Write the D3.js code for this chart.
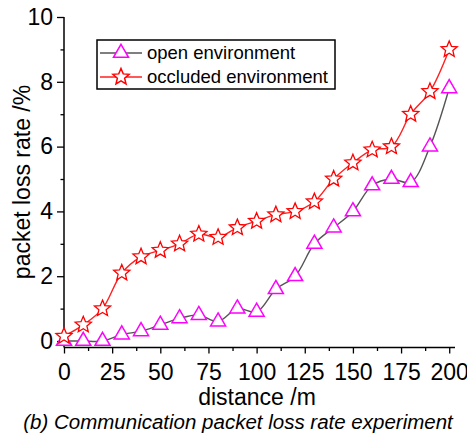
<!DOCTYPE html>
<html>
<head>
<meta charset="utf-8">
<script src="https://cdn.jsdelivr.net/npm/d3@7"></script>
<style>
  body { margin: 0; background: #fff; }
  svg { display: block; font-family: "Liberation Sans", Arial, sans-serif; }
</style>
</head>
<body>
<svg id="chart" width="467" height="434"></svg>
<script>
// data
var distances = [0, 10, 20, 30, 40, 50, 60, 70, 80, 90, 100, 110, 120, 130, 140, 150, 160, 170, 180, 190, 200];
var openLoss = [0, 0, 0, 0.2, 0.3, 0.5, 0.7, 0.8, 0.6, 1.0, 0.9, 1.6, 2.0, 3.0, 3.5, 4.0, 4.8, 5.0, 4.9, 6.0, 7.8];
var occludedLoss = [0.15, 0.5, 1.0, 2.1, 2.6, 2.8, 3.0, 3.3, 3.2, 3.5, 3.7, 3.9, 4.0, 4.3, 5.0, 5.5, 5.9, 6.0, 7.0, 7.7, 9.0];
var seriesNames = ["open environment", "occluded environment"];
var xTicks = [0, 25, 50, 75, 100, 125, 150, 175, 200];
var yTicks = [0, 2, 4, 6, 8, 10];

var GrayLine = "#555555", RedLine = "#ff2020", Magenta = "#ff00ff", Red = "#ff0000";

var svg = d3.select("#chart");

var x = d3.scaleLinear().domain([0, 203]).range([64, 455]);
var y = d3.scaleLinear().domain([-0.2, 10]).range([347.5, 17]);

// star path, centred on 0,0
function starPath(r) {
  var ri = r * 0.45, p = [];
  for (var i = 0; i < 10; i++) {
    var a = -Math.PI / 2 + i * Math.PI / 5;
    var rr = (i % 2 == 0) ? r : ri;
    p.push([Math.cos(a) * rr, Math.sin(a) * rr]);
  }
  return "M" + p.join("L") + "Z";
}
var triPath = d3.symbol().type(d3.symbolTriangle).size(98)();
var star = starPath(8.5);

// axes
var xAxis = d3.axisBottom(x).tickValues(xTicks).tickSize(6).tickPadding(6).tickFormat(d3.format("d"));
var xMinor = d3.axisBottom(x).tickValues(xTicks.slice(1).map(function(d) { return d - 12.5; })).tickSize(3.5).tickFormat("");
var yAxis = d3.axisLeft(y).tickValues(yTicks).tickSize(7).tickPadding(4).tickFormat(d3.format("d"));
var yMinor = d3.axisLeft(y).tickValues([1, 3, 5, 7, 9]).tickSize(3.5).tickFormat("");

var gx = svg.append("g").attr("transform", "translate(0,347.5)").call(xAxis);
svg.append("g").attr("transform", "translate(0,347.5)").call(xMinor);
var gy = svg.append("g").attr("transform", "translate(64,0)").call(yAxis);
svg.append("g").attr("transform", "translate(64,0)").call(yMinor);

svg.selectAll(".domain").attr("stroke", "#000").attr("stroke-width", 1.5)
  .attr("d", null);
// plain axis lines (no end caps)
gx.select(".domain").attr("d", "M" + x.range()[0] + ",0H" + x.range()[1]);
gy.select(".domain").attr("d", "M0," + y.range()[0] + "V" + y.range()[1]);
svg.selectAll(".tick line").attr("stroke", "#000").attr("stroke-width", 1.3);
svg.selectAll(".tick text").attr("fill", "#000").style("font-size", "23px")
  .style("font-family", "Liberation Sans, Arial, sans-serif");
gx.selectAll(".tick text").attr("dy", "0.9em");

// axis titles
svg.append("text")
  .attr("x", 257).attr("y", 405)
  .attr("text-anchor", "middle")
  .style("font-size", "23px")
  .text("distance /m");
svg.append("text")
  .attr("transform", "translate(30,182) rotate(-90)")
  .attr("text-anchor", "middle")
  .style("font-size", "23px")
  .text("packet loss rate /%");
svg.append("text")
  .attr("x", 238).attr("y", 429)
  .attr("text-anchor", "middle")
  .style("font-size", "20.5px")
  .style("font-style", "italic")
  .text("(b) Communication packet loss rate experiment");

// lines
var line = d3.line()
  .x(function(d) { return x(d[0]); })
  .y(function(d) { return y(d[1]); })
  .curve(d3.curveCatmullRom.alpha(0.5));

var openPts = distances.map(function(d, i) { return [d, openLoss[i]]; });
var occPts = distances.map(function(d, i) { return [d, occludedLoss[i]]; });

svg.append("path").datum(openPts).attr("d", line)
  .attr("fill", "none").attr("stroke", GrayLine).attr("stroke-width", 1.4);
svg.append("path").datum(occPts).attr("d", line)
  .attr("fill", "none").attr("stroke", RedLine).attr("stroke-width", 1.4);

// markers (hollow, white inside)
svg.append("g").selectAll("path").data(openPts).enter().append("path")
  .attr("d", triPath)
  .attr("transform", function(d) { return "translate(" + x(d[0]) + "," + y(d[1]) + ")"; })
  .attr("fill", "#fff").attr("stroke", Magenta).attr("stroke-width", 1.5);
svg.append("g").selectAll("path").data(occPts).enter().append("path")
  .attr("d", star)
  .attr("transform", function(d) { return "translate(" + x(d[0]) + "," + y(d[1]) + ")"; })
  .attr("fill", "#fff").attr("stroke", Red).attr("stroke-width", 1.3);

// legend
var legend = svg.append("g");
legend.append("rect")
  .attr("x", 97).attr("y", 40).attr("width", 238).attr("height", 49)
  .attr("fill", "#fff").attr("stroke", "#000").attr("stroke-width", 1.5);
var rows = [
  {name: seriesNames[0], y: 53, lineColor: GrayLine, mark: triPath, markColor: Magenta},
  {name: seriesNames[1], y: 77, lineColor: RedLine, mark: star, markColor: Red}
];
rows.forEach(function(r) {
  legend.append("line")
    .attr("x1", 100).attr("x2", 142).attr("y1", r.y).attr("y2", r.y)
    .attr("stroke", r.lineColor).attr("stroke-width", 1.4);
  legend.append("path")
    .attr("d", r.mark)
    .attr("transform", "translate(121," + r.y + ")")
    .attr("fill", "#fff").attr("stroke", r.markColor).attr("stroke-width", 1.5);
  legend.append("text")
    .attr("x", 147).attr("y", r.y)
    .attr("dy", "0.35em")
    .style("font-size", "18.5px")
    .text(r.name);
});
</script>
</body>
</html>
